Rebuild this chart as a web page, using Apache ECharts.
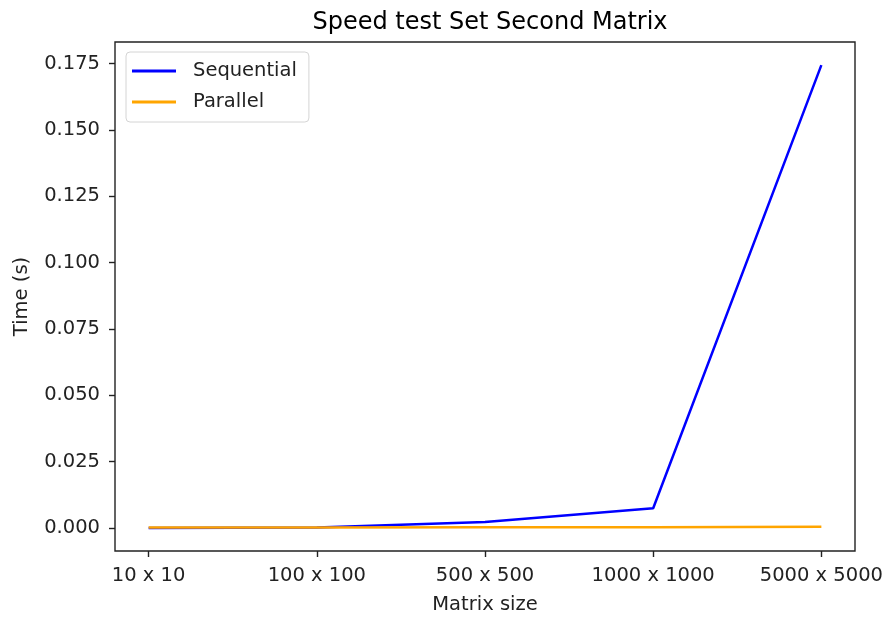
<!DOCTYPE html>
<html>
<head>
<meta charset="utf-8">
<script src="https://cdn.jsdelivr.net/npm/echarts@6/dist/echarts.min.js"></script>
<style>html,body{margin:0;padding:0;background:#fff}#c{width:889px;height:620px}</style>
</head>
<body>
<div id="c"></div>
<script>
const categories = ["10 x 10", "100 x 100", "500 x 500", "1000 x 1000", "5000 x 5000"];
const sequential = [0.00001, 0.0002, 0.0022, 0.0074, 0.1745];
const parallel = [0.0002, 0.0002, 0.0003, 0.0003, 0.0004];
const yTicks = [0, 0.025, 0.05, 0.075, 0.1, 0.125, 0.15, 0.175];

const font = "DejaVu Sans";
const fs = 19.5;
const chart = echarts.init(document.getElementById('c'));
const toXY = arr => arr.map((v, i) => [i, v]);
const lineIcon = 'path://M0,0 L44,0 L44,3 L0,3 Z';
chart.setOption({
  animation: false,
  textStyle: { fontFamily: font },
  title: {
    text: "Speed test Set Second Matrix",
    left: 485, top: 6, textAlign: 'center',
    textStyle: { fontFamily: font, fontSize: 24, fontWeight: 'normal', color: '#000' }
  },
  grid: { left: 115, right: 34, top: 42, bottom: 69, show: true, borderColor: '#222', borderWidth: 1.4,
    containLabel: false, outerBoundsMode: 'none' },
  legend: {
    orient: 'vertical', left: 126, top: 52,
    itemWidth: 44, itemHeight: 3, itemGap: 9,
    padding: [8, 12, 9, 6],
    backgroundColor: '#fff', borderColor: '#d4d4d4', borderWidth: 1, borderRadius: 4,
    textStyle: { fontFamily: font, fontSize: fs, color: '#222', padding: [0, 0, 0, 12], lineHeight: 22 },
    data: [
      { name: 'Sequential', icon: lineIcon, itemStyle: { color: '#0000ff' } },
      { name: 'Parallel', icon: lineIcon, itemStyle: { color: '#ffa500' } }
    ]
  },
  xAxis: {
    type: 'value', min: -0.2, max: 4.2,
    name: 'Matrix size', nameLocation: 'middle', nameGap: 44,
    nameTextStyle: { fontFamily: font, fontSize: fs, color: '#222' },
    axisLine: { show: false, onZero: false },
    axisTick: { show: true, length: 6, customValues: [0, 1, 2, 3, 4], lineStyle: { color: '#222', width: 1.4 } },
    axisLabel: { customValues: [0, 1, 2, 3, 4], margin: 15, fontSize: fs, color: '#222', fontFamily: font,
      formatter: v => categories[Math.round(v)] },
    splitLine: { show: false }
  },
  yAxis: {
    type: 'value', min: -0.0087, max: 0.1832,
    name: 'Time (s)', nameLocation: 'middle', nameGap: 83, nameRotate: 90,
    nameTextStyle: { fontFamily: font, fontSize: fs, color: '#222' },
    axisLine: { show: false, onZero: false },
    axisTick: { show: true, length: 6, customValues: yTicks, lineStyle: { color: '#222', width: 1.4 } },
    axisLabel: { customValues: yTicks, margin: 15, fontSize: fs, color: '#222', fontFamily: font,
      formatter: v => v.toFixed(3) },
    splitLine: { show: false }
  },
  series: [
    { name: 'Sequential', type: 'line', data: toXY(sequential), showSymbol: false, symbol: 'none',
      lineStyle: { color: '#0000ff', width: 2.5 }, itemStyle: { color: '#0000ff' } },
    { name: 'Parallel', type: 'line', data: toXY(parallel), showSymbol: false, symbol: 'none',
      lineStyle: { color: '#ffa500', width: 2.5 }, itemStyle: { color: '#ffa500' } }
  ]
});
</script>
</body>
</html>
